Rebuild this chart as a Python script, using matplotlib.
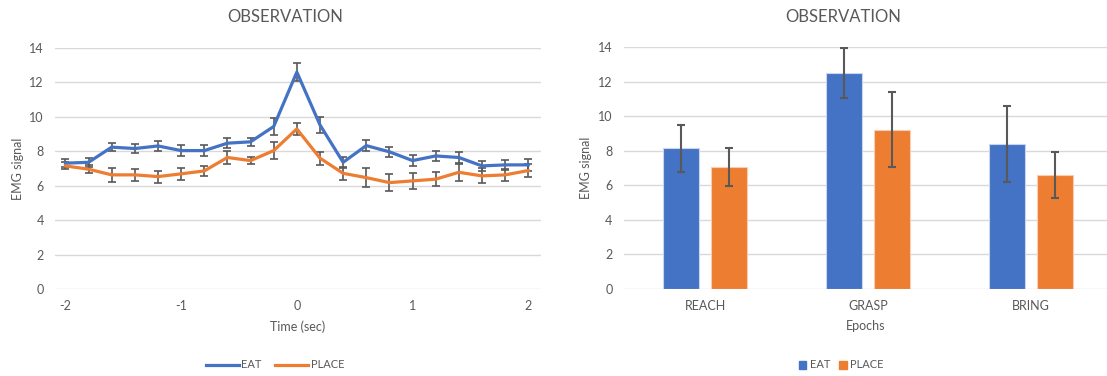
import numpy as np
import matplotlib
matplotlib.use("Agg")
import matplotlib.pyplot as plt
from matplotlib.lines import Line2D
from matplotlib.patches import Patch

plt.rcParams['font.family'] = ['Lato', 'DejaVu Sans']
plt.rcParams['axes.unicode_minus'] = False

# Dados - gráfico de linhas (tempo em segundos)
tempo = [-2.0, -1.8, -1.6, -1.4, -1.2, -1.0, -0.8, -0.6, -0.4, -0.2, 0.0,
         0.2, 0.4, 0.6, 0.8, 1.0, 1.2, 1.4, 1.6, 1.8, 2.0]
eat_linha = [7.31, 7.36, 8.24, 8.16, 8.31, 8.04, 8.04, 8.47, 8.55, 9.44, 12.6,
             9.53, 7.36, 8.33, 7.97, 7.46, 7.73, 7.64, 7.15, 7.21, 7.21]
eat_erro = [0.25, 0.27, 0.25, 0.25, 0.28, 0.30, 0.30, 0.30, 0.22, 0.48, 0.50,
            0.45, 0.33, 0.34, 0.30, 0.30, 0.28, 0.30, 0.27, 0.29, 0.33]
place_linha = [7.15, 6.96, 6.63, 6.63, 6.53, 6.69, 6.86, 7.64, 7.46, 8.04, 9.30,
               7.60, 6.72, 6.47, 6.18, 6.28, 6.38, 6.78, 6.57, 6.63, 6.88]
place_erro = [0.20, 0.25, 0.42, 0.35, 0.35, 0.34, 0.30, 0.36, 0.20, 0.50, 0.33,
              0.38, 0.37, 0.56, 0.50, 0.47, 0.39, 0.48, 0.44, 0.34, 0.38]

# Dados - gráfico de barras
epocas = ['REACH', 'GRASP', 'BRING']
eat_barra = [8.13, 12.50, 8.38]
eat_barra_erro = [1.35, 1.45, 2.18]
place_barra = [7.03, 9.22, 6.61]
place_barra_erro = [1.10, 2.15, 1.33]

azul = '#4472C4'
laranja = '#ED7D31'
cinza = '#595959'
grade = '#D9D9D9'

W, H = 1107, 376
fig = plt.figure(figsize=(W / 100, H / 100), dpi=100)

def eixo(x0, x1, ytop, ybot):
    return fig.add_axes([x0 / W, 1 - ybot / H, (x1 - x0) / W, (ybot - ytop) / H])

def estilo(ax):
    for s in ax.spines.values():
        s.set_visible(False)
    ax.set_ylim(0, 14)
    ax.set_yticks(range(0, 15, 2))
    ax.grid(axis='y', color=grade, lw=1)
    ax.set_axisbelow(True)
    ax.tick_params(length=0, labelsize=9, colors=cinza, pad=8)
    ax.set_ylabel('EMG signal', fontsize=9, color=cinza, labelpad=4)

# Gráfico da esquerda
ax1 = eixo(55, 541, 48, 289)
estilo(ax1)
ax1.errorbar(tempo, eat_linha, yerr=eat_erro, color=azul, lw=2.3,
             ecolor=cinza, elinewidth=1.2, capsize=3, capthick=1.2)
ax1.errorbar(tempo, place_linha, yerr=place_erro, color=laranja, lw=2.3,
             ecolor=cinza, elinewidth=1.2, capsize=3, capthick=1.2)
ax1.set_xlim(-2.09, 2.11)
ax1.set_xticks([-2, -1, 0, 1, 2])
ax1.set_xlabel('Time (sec)', fontsize=9, color=cinza, labelpad=6)
fig.text(285 / W, 1 - 17 / H, 'OBSERVATION', ha='center', va='center',
         fontsize=12, color=cinza)
alcas = [Line2D([], [], color=azul, lw=2.3), Line2D([], [], color=laranja, lw=2.3)]
fig.legend(alcas, ['EAT', 'PLACE'], loc='center', bbox_to_anchor=(275 / W, 1 - 365 / H),
           ncol=2, frameon=False, fontsize=8, handlelength=3, handletextpad=0.2,
           columnspacing=1.2, labelcolor=cinza)

# Gráfico da direita
ax2 = eixo(623.5, 1107, 47, 289)
estilo(ax2)
x = np.arange(len(epocas))
larg = 0.22
ax2.bar(x - 0.145, eat_barra, larg, color=azul, edgecolor='#C9D6EE', lw=0.8,
        yerr=eat_barra_erro, ecolor=cinza, error_kw=dict(elinewidth=1.5, capsize=3, capthick=1.5))
ax2.bar(x + 0.145, place_barra, larg, color=laranja, edgecolor='#F8CDB2', lw=0.8,
        yerr=place_barra_erro, ecolor=cinza, error_kw=dict(elinewidth=1.5, capsize=3, capthick=1.5))
ax2.set_xlim(-0.5, 2.466)
ax2.set_xticks(x)
ax2.set_xticklabels(epocas)
ax2.set_xlabel('Epochs', fontsize=9, color=cinza, labelpad=6)
fig.text(843 / W, 1 - 17 / H, 'OBSERVATION', ha='center', va='center',
         fontsize=12, color=cinza)
quadrados = [Patch(color=azul), Patch(color=laranja)]
fig.legend(quadrados, ['EAT', 'PLACE'], loc='center', bbox_to_anchor=(841 / W, 1 - 365 / H),
           ncol=2, frameon=False, fontsize=8, handlelength=0.7, handleheight=0.7,
           handletextpad=0.3, columnspacing=0.8, labelcolor=cinza)

fig.savefig('out.png', dpi=100)
